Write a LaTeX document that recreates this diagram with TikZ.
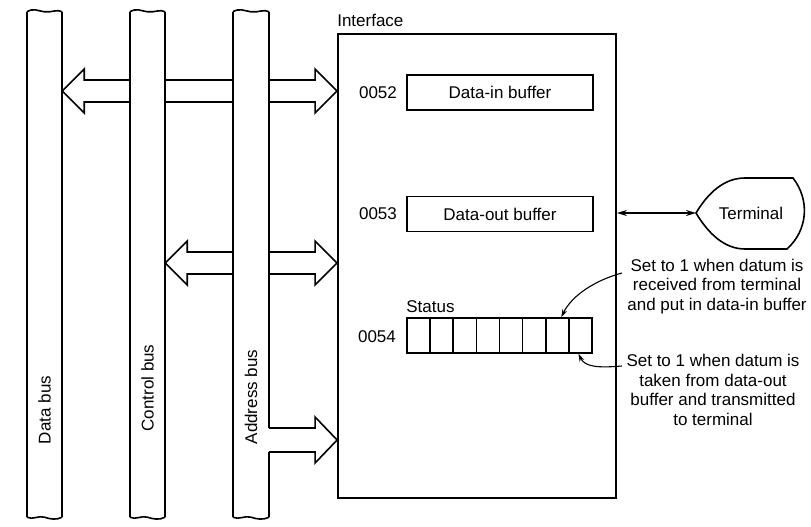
\documentclass[tikz,border=0pt]{standalone}
\usepackage{fontspec}
\setmainfont{Liberation Sans}
\usetikzlibrary{arrows.meta,calc}
\newcommand\dblarrow[2]{%
  \draw[bigarrow] (#1) -- ++(22,-22) -- ++(0,11) -- ($(#2)+(-22,-11)$) -- ++(0,-11) -- (#2)
    -- ++(-22,22) -- ++(0,-11) -- ($(#1)+(22,11)$) -- ++(0,11) -- cycle;}
\newcommand\tornends[1]{%
  \draw[ln] (#1.north west) .. controls +(7,-4) and +(-7,-1) .. (#1.north)
    .. controls +(7,1) and +(-5,-3) .. (#1.north east);
  \draw[ln] (#1.south west) .. controls +(6,3) and +(-6,-2) .. (#1.south)
    .. controls +(6,2) and +(-6,3) .. (#1.south east);}
\begin{document}
\begin{tikzpicture}[x=1pt,y=-1pt,font=\fontsize{17}{19.5}\selectfont]
\tikzset{
  ln/.style={line width=1.6pt},
  busfill/.style={fill=white,draw=none,minimum width=35pt,minimum height=505pt,inner sep=0pt},
  buslabel/.style={rotate=90,inner sep=0pt},
  bigarrow/.style={fill=white,draw=black,line width=1.6pt,line join=miter},
  regbox/.style={draw,line width=1.6pt,minimum width=186pt,minimum height=35pt,inner sep=0pt},
  cellbox/.style={draw,line width=1.6pt,minimum width=23.125pt,minimum height=35pt,inner sep=0pt},
  addr/.style={inner sep=0pt},
  note/.style={align=center,inner sep=0pt},
  noteline/.style={line width=1.1pt,-{Stealth[length=8pt,width=5pt]}},
  termline/.style={line width=2pt,{Stealth[length=10pt,width=6pt]}-{Stealth[length=10pt,width=6pt]}}
}
\useasboundingbox (0,0) rectangle (811,527);

% interface
\node[draw,line width=1.8pt,minimum width=278pt,minimum height=464pt,inner sep=0pt] (ifc) at (477,266) {};
\node[anchor=south west,inner sep=0pt] (ifclab) at ($(ifc.north west)+(0,-6)$) {Interface};

% buses (fills)
\node[busfill] (db) at (44.5,264.5) {};
\coordinate (a1l) at (db.east |- 0,91);
\coordinate (a1r) at (ifc.west |- 0,91);
\dblarrow{a1l}{a1r}
\node[busfill] (cb) at (147.5,264.5) {};
\coordinate (a2l) at (cb.east |- 0,263);
\coordinate (a2r) at (ifc.west |- 0,263);
\dblarrow{a2l}{a2r}
\node[busfill,minimum width=36pt] (ab) at (251,264.5) {};

% bus outlines
\draw[ln] (db.north west) -- (db.south west) (db.north east) -- (db.south east);
\draw[ln] (cb.north west) -- (cb.south west) (cb.north east) -- (cb.south east);
\draw[ln] (ab.north west) -- (ab.south west) (ab.north east) -- (ab.east |- 0,428) (ab.east |- 0,452) -- (ab.south east);
\tornends{db}
\tornends{cb}
\tornends{ab}

% address bus arrow
\coordinate (a3r) at (ifc.west |- 0,440);
\draw[bigarrow,fill=none] (ab.east |- 0,428) -- ($(a3r)+(-22,-12)$) -- ++(0,-11) -- (a3r)
   -- ++(-22,23) -- ++(0,-11) -- (ab.east |- 0,452);

\node[buslabel] (dblab) at (44.5,410) {Data bus};
\node[buslabel] (cblab) at (147.5,388) {Control bus};
\node[buslabel] (ablab) at (251,397) {Address bus};

% registers
\node[regbox] (din) at (500,92.5) {Data-in buffer};
\node[addr] (n52) at (378,92.5) {0052};
\node[regbox] (dout) at (500,214) {Data-out buffer};
\node[addr] (n53) at (378,214) {0053};
\foreach \i in {1,...,8} {
  \node[cellbox] (s\i) at ({407+23.125*(\i-0.5)},335.5) {};
}
\node[anchor=south west,inner sep=0pt] (stlab) at ($(s1.north west)+(0,-4)$) {Status};
\node[addr] (n54) at (377,337) {0054};

% terminal
\node[inner sep=0pt] (term) at (751,213) {Terminal};
\coordinate (tt) at (696,213);
\draw[ln] (tt) .. controls (708,193) and (724,178) .. (745,178) -- (793,178)
  .. controls (810,200) and (808,230) .. (787,249) -- (745,249)
  .. controls (724,249) and (708,233) .. (tt) -- cycle;
\draw[termline] (ifc.east |- tt) -- (tt);

% notes
\node[note] (note1) at (717,286.5) {Set to 1 when datum is\\received from terminal\\and put in data-in buffer};
\node[note] (note2) at (713,390) {Set to 1 when datum is\\taken from data-out\\buffer and transmitted\\to terminal};
\coordinate (c1) at (622,273);
\coordinate (c2) at (622,366);
\draw[noteline] (c1) .. controls (596,280) and (572,295) .. ($(s7.north)+(4,0)$);
\draw[noteline] (c2) .. controls (598,368) and (585,367) .. ($(s8.south)+(-2,0)$);
\end{tikzpicture}
\end{document}
